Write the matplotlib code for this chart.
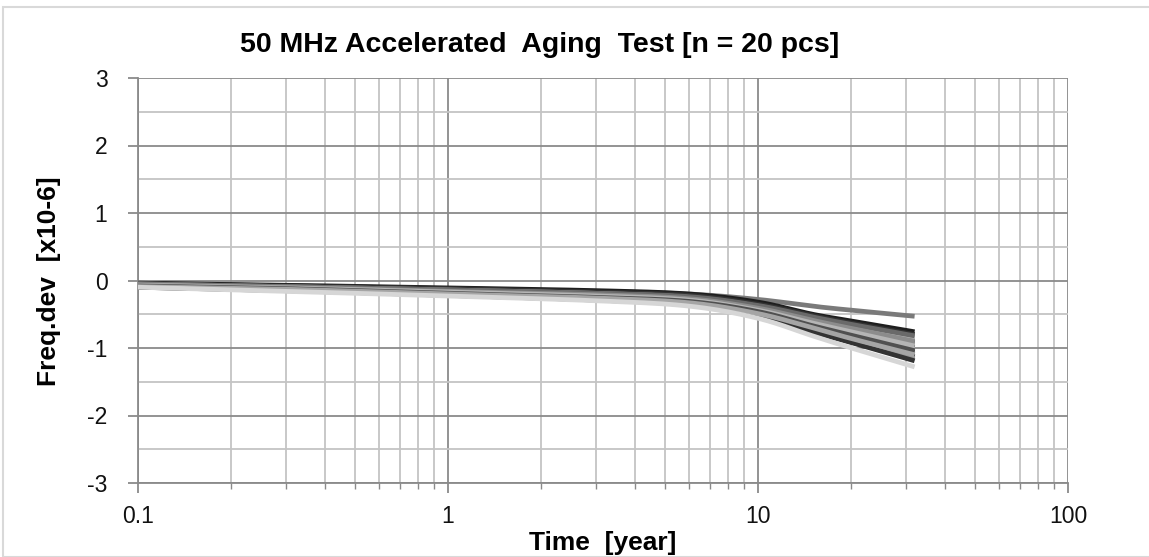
import numpy as np
import matplotlib
matplotlib.use("Agg")
import matplotlib.pyplot as plt
from matplotlib.patches import Rectangle
from matplotlib.ticker import LogLocator, FixedLocator, NullFormatter

plt.rcParams['font.family'] = ['Liberation Sans', 'DejaVu Sans']
plt.rcParams['axes.unicode_minus'] = False

# elapsed time [year]
years = [0.1, 0.3, 1, 3, 6, 10, 15, 20, 32]

# frequency deviation [x10-6] for the 20 samples
dev = [
    [-0.04, -0.08, -0.12, -0.16, -0.20, -0.28, -0.38, -0.44, -0.53],
    [-0.04, -0.07, -0.11, -0.15, -0.20, -0.32, -0.50, -0.60, -0.76],
    [-0.05, -0.08, -0.12, -0.17, -0.22, -0.35, -0.52, -0.63, -0.80],
    [-0.05, -0.09, -0.14, -0.19, -0.25, -0.38, -0.56, -0.67, -0.84],
    [-0.06, -0.10, -0.15, -0.20, -0.26, -0.40, -0.58, -0.70, -0.88],
    [-0.06, -0.10, -0.16, -0.21, -0.27, -0.41, -0.60, -0.72, -0.92],
    [-0.07, -0.11, -0.17, -0.22, -0.28, -0.43, -0.62, -0.75, -0.95],
    [-0.07, -0.12, -0.18, -0.23, -0.30, -0.44, -0.64, -0.78, -0.99],
    [-0.08, -0.12, -0.18, -0.24, -0.31, -0.46, -0.66, -0.80, -1.02],
    [-0.08, -0.13, -0.19, -0.25, -0.32, -0.47, -0.68, -0.83, -1.06],
    [-0.09, -0.13, -0.20, -0.26, -0.33, -0.48, -0.70, -0.85, -1.09],
    [-0.09, -0.14, -0.20, -0.27, -0.34, -0.50, -0.72, -0.88, -1.13],
    [-0.10, -0.14, -0.21, -0.28, -0.35, -0.51, -0.74, -0.90, -1.16],
    [-0.10, -0.15, -0.22, -0.29, -0.36, -0.52, -0.76, -0.92, -1.19],
    [-0.05, -0.09, -0.14, -0.19, -0.24, -0.37, -0.54, -0.65, -0.82],
    [-0.06, -0.10, -0.16, -0.21, -0.27, -0.41, -0.59, -0.71, -0.90],
    [-0.07, -0.11, -0.17, -0.23, -0.29, -0.44, -0.63, -0.76, -0.97],
    [-0.08, -0.12, -0.19, -0.25, -0.31, -0.46, -0.67, -0.81, -1.04],
    [-0.09, -0.13, -0.20, -0.26, -0.33, -0.49, -0.70, -0.86, -1.10],
    [-0.10, -0.16, -0.23, -0.30, -0.38, -0.56, -0.82, -1.00, -1.28],
]
colors = ['#7a7a7a', '#1e1e1e', '#333333', '#9a9a9a', '#bbbbbb',
          '#666666', '#888888', '#555555', '#aaaaaa', '#444444',
          '#777777', '#222222', '#999999', '#333333', '#6a6a6a',
          '#8c8c8c', '#b5b5b5', '#505050', '#a5a5a5', '#d6d6d6']

title = '50 MHz Accelerated  Aging  Test [n = 20 pcs]'


def smooth(x, y, n=24):
    # Catmull-Rom curve through the points (in log-x), like a smoothed line in a spreadsheet
    px = np.log10(np.asarray(x, float))
    py = np.asarray(y, float)
    P = np.column_stack([px, py])
    P = np.vstack([2 * P[0] - P[1], P, 2 * P[-1] - P[-2]])
    out = []
    t = np.linspace(0, 1, n, endpoint=False)[:, None]
    for i in range(1, len(P) - 2):
        p0, p1, p2, p3 = P[i - 1], P[i], P[i + 1], P[i + 2]
        seg = 0.5 * ((2 * p1) + (-p0 + p2) * t + (2 * p0 - 5 * p1 + 4 * p2 - p3) * t ** 2
                     + (-p0 + 3 * p1 - 3 * p2 + p3) * t ** 3)
        out.append(seg)
    out.append(P[-2][None, :])
    out = np.vstack(out)
    return 10 ** out[:, 0], out[:, 1]


W, H = 1149, 557
fig = plt.figure(figsize=(W / 100, H / 100), dpi=100)
ax = fig.add_axes([138 / W, 1 - 483 / H, (1068 - 138) / W, (483 - 78) / H])

# chart border
fig.patches.append(Rectangle((3 / W, 0), 1.2, 1 - 7 / H, transform=fig.transFigure,
                             fill=False, edgecolor='#d9d9d9', lw=1.5))

for ys, c in zip(dev, colors):
    sx, sy = smooth(years, ys)
    ax.plot(sx, sy, color=c, lw=3.4, solid_capstyle='butt', zorder=3)

ax.set_xscale('log')
ax.set_xlim(0.1, 100)
ax.set_ylim(-3, 3)
ax.xaxis.set_major_locator(FixedLocator([0.1, 1, 10, 100]))
ax.set_xticklabels(['0.1', '1', '10', '100'])
ax.xaxis.set_minor_locator(LogLocator(base=10, subs=np.arange(2, 10)))
ax.xaxis.set_minor_formatter(NullFormatter())
ax.set_yticks([-3, -2, -1, 0, 1, 2, 3])
ax.set_yticks([-2.5, -1.5, -0.5, 0.5, 1.5, 2.5], minor=True)

ax.grid(which='major', color='#8a8a8a', lw=1.3, zorder=1)
ax.grid(which='minor', color='#c4c4c4', lw=1.3, zorder=1)
ax.set_axisbelow(True)

for s in ['top', 'right']:
    ax.spines[s].set_visible(False)
for s in ['left', 'bottom']:
    ax.spines[s].set_color('#8a8a8a')
    ax.spines[s].set_linewidth(1.3)

ax.tick_params(axis='both', which='major', length=7, width=1.3, color='#8a8a8a',
               labelsize=16.5, labelcolor='#111111')
ax.tick_params(axis='y', which='major', pad=15)
ax.tick_params(axis='x', which='major', pad=9)
ax.tick_params(axis='x', which='minor', length=4, width=1, color='#8a8a8a')
ax.tick_params(axis='y', which='minor', length=0)

fig.text(603 / W, 1 - 543 / H, 'Time  [year]', fontsize=19, fontweight='bold',
         ha='center', va='center')
fig.text(49 / W, 1 - 281 / H, 'Freq.dev  [x10-6]', fontsize=19, fontweight='bold',
         ha='center', va='center', rotation=90)
fig.text(540 / W, 1 - 45 / H, title, fontsize=20.5, fontweight='bold',
         ha='center', va='center')

fig.savefig('out.png', dpi=100)
